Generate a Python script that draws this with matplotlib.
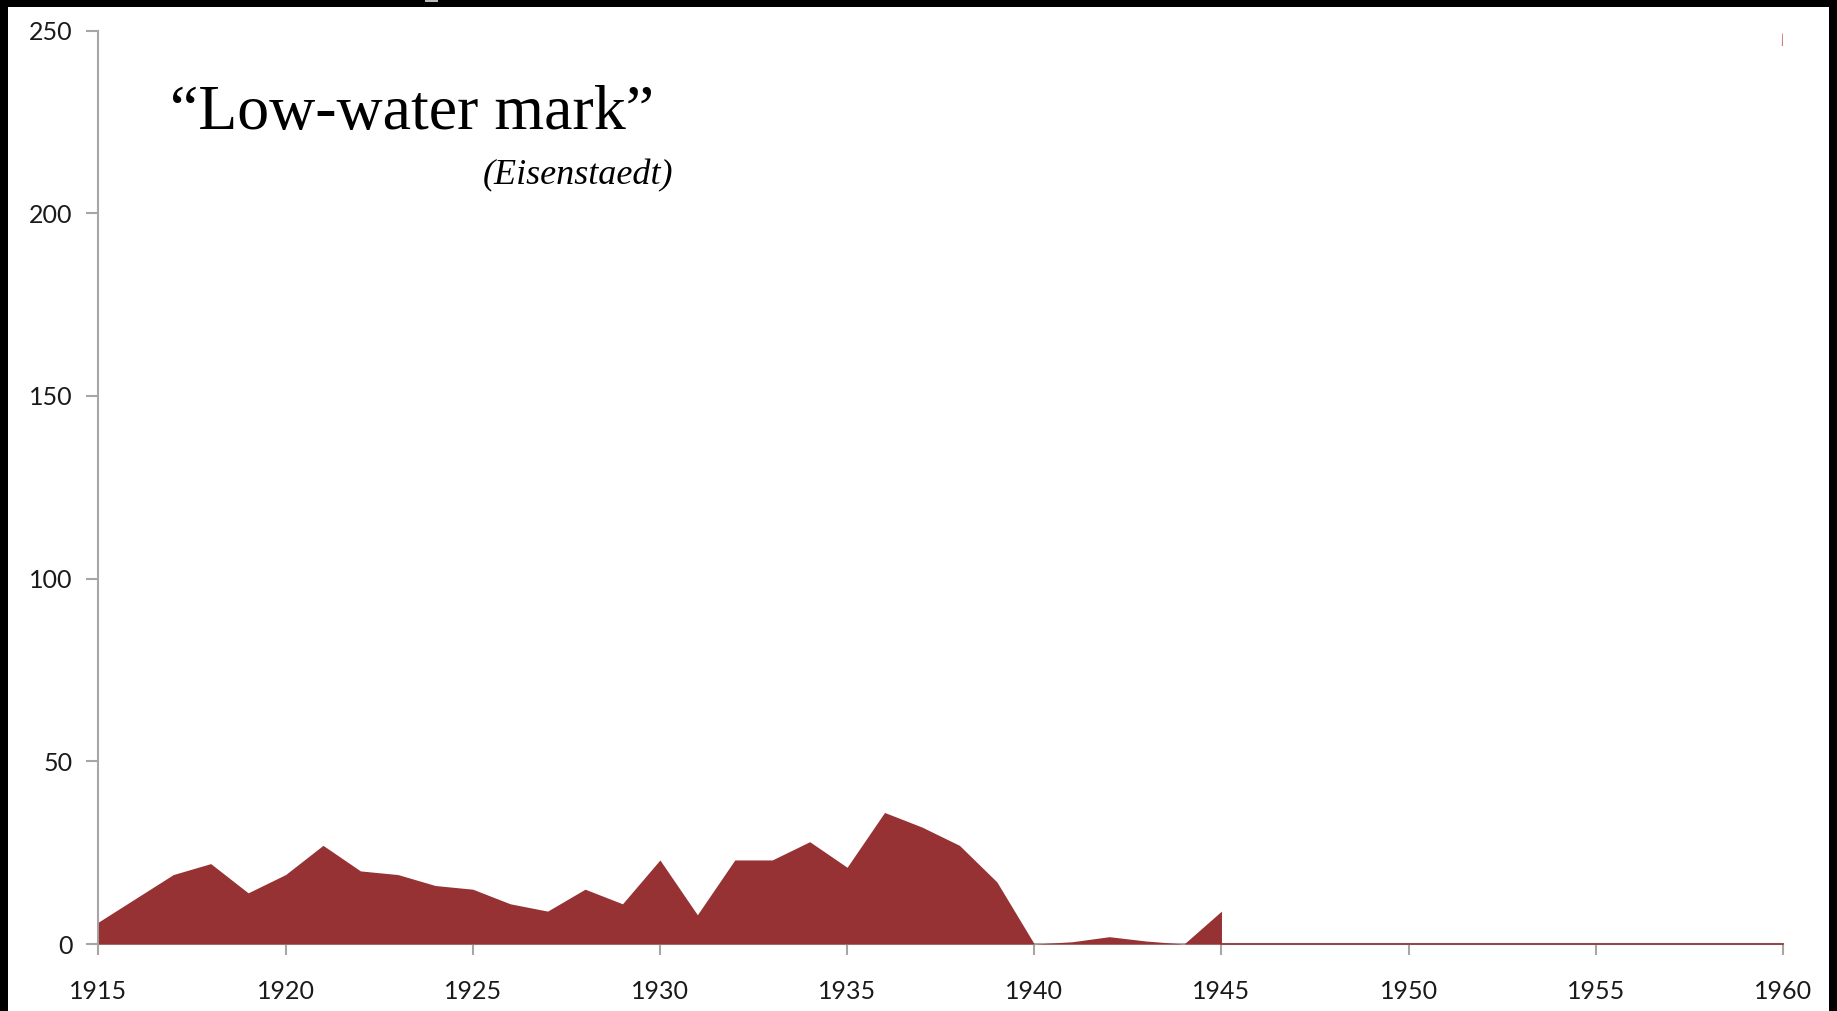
import matplotlib
matplotlib.use('Agg')
import matplotlib.pyplot as plt
from matplotlib.patches import Rectangle
import numpy as np

# yearly counts (area is cut off after 1945)
years = list(range(1915, 1946))
counts = [6, 12.5, 19, 22, 14, 19, 27, 20, 19, 16, 15, 11, 9, 15, 11,
          23, 8, 23, 23, 28, 21, 36, 32, 27, 17,
          0, 0.6, 2, 0.8, 0, 9]
tail_years = [1945, 1960]
tail_counts = [0, 0]

x_ticks = list(range(1915, 1961, 5))
y_ticks = [0, 50, 100, 150, 200, 250]

title = "\u201cLow-water mark\u201d"
subtitle = "(Eisenstaedt)"

red = '#963234'
gray = '#a6a6a6'

fig = plt.figure(figsize=(18.37, 10.11), dpi=100, facecolor='black')
W, H = 1837, 1011
# white slide area inside the black frame (drawn below the axes)
fig.patches.append(Rectangle((8 / W, 0), (1829 - 8) / W, (H - 7) / H,
                             transform=fig.transFigure, facecolor='white',
                             edgecolor='none', zorder=-2))
# small grey nick in the top border
fig.patches.append(Rectangle((425 / W, (H - 2) / H), 13 / W, 2 / H,
                             transform=fig.transFigure, facecolor='#bbbbbb',
                             edgecolor='none', zorder=-1))

ax = fig.add_axes([98.4 / W, 1 - 944 / H, (1783 - 98.4) / W, (944 - 30.5) / H])
ax.set_facecolor('none')

ax.fill_between(years, counts, 0, color=red, linewidth=0, zorder=3)
ax.plot(tail_years, tail_counts, color=red, linewidth=1.2, zorder=3, clip_on=False)
# tiny sliver peeking out at the top right
ax.plot([1959.99, 1960], [246, 249], color='#d08080', linewidth=1.2, zorder=3)

ax.set_xlim(1915, 1960)
ax.set_ylim(0, 250)
ax.set_xticks(x_ticks)
ax.set_yticks(y_ticks)

for s in ['top', 'right']:
    ax.spines[s].set_visible(False)
for s in ['left', 'bottom']:
    ax.spines[s].set_color(gray)
    ax.spines[s].set_linewidth(1.5)
    ax.spines[s].set_zorder(2)

ax.tick_params(axis='y', direction='out', length=9, width=1.5, color=gray,
               pad=9.5, labelsize=18, labelcolor='#1a1a1a')
ax.tick_params(axis='x', direction='out', length=8, width=1.5, color=gray,
               pad=18, labelsize=18, labelcolor='#1a1a1a')
for lab in ax.get_xticklabels() + ax.get_yticklabels():
    lab.set_fontfamily('Lato')

fig.text(170 / W, 1 - 129 / H, title, family='Liberation Serif', fontsize=46,
         color='black', ha='left', va='baseline')
fig.text(673 / W, 1 - 184 / H, subtitle, family='Liberation Serif',
         style='italic', fontsize=26, color='black', ha='right', va='baseline')

fig.savefig('out.png', dpi=100, facecolor='black')
